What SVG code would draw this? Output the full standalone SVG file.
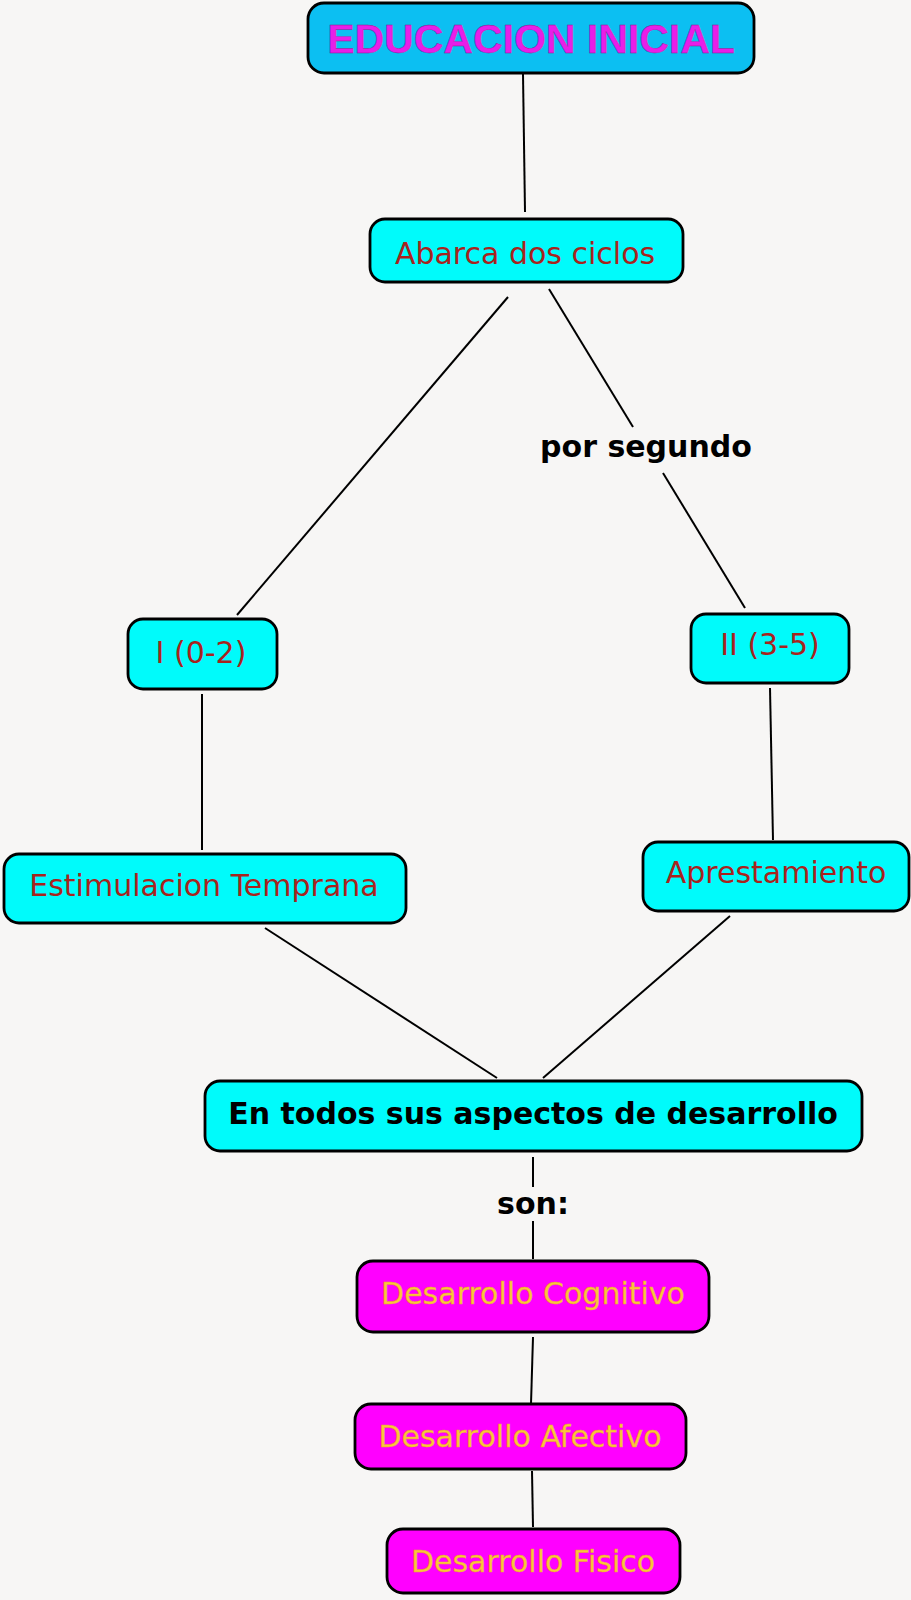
<svg xmlns="http://www.w3.org/2000/svg" width="911" height="1600" viewBox="0 0 911 1600">
  <style>
    .box { stroke: #000; stroke-width: 2.8; }
    .cyan { fill: #00fbfb; }
    .mag { fill: #ff00ff; }
    .top { fill: #0cbff2; }
    .t { font-family: "DejaVu Sans", Verdana, sans-serif; font-size: 30px; text-anchor: middle; }
    .red { fill: #a8231d; }
    .yel { fill: #fbc53a; stroke: #e8a030; stroke-width: 0.4; }
    .bold { font-weight: bold; fill: #000; }
    .edge { stroke: #000; stroke-width: 2; fill: none; }
  </style>
  <rect width="911" height="1600" fill="#f7f6f5"/>

  <g id="connectors">
    <line class="edge" x1="523" y1="74" x2="525" y2="212"/>
    <line class="edge" x1="508" y1="297" x2="237" y2="615"/>
    <line class="edge" x1="549" y1="289" x2="633" y2="427"/>
    <line class="edge" x1="663" y1="473" x2="745" y2="608"/>
    <line class="edge" x1="202" y1="694" x2="202" y2="850"/>
    <line class="edge" x1="770" y1="688" x2="773" y2="840"/>
    <line class="edge" x1="265" y1="928" x2="497" y2="1078"/>
    <line class="edge" x1="730" y1="916" x2="543" y2="1078"/>
    <line class="edge" x1="533" y1="1157" x2="533" y2="1187"/>
    <line class="edge" x1="533" y1="1221" x2="533" y2="1259"/>
    <line class="edge" x1="533" y1="1337" x2="531" y2="1404"/>
    <line class="edge" x1="532" y1="1471" x2="533" y2="1527"/>
  </g>

  <g id="n-educacion">
    <rect class="box top" x="308" y="3" width="446" height="70" rx="16"/>
    <text x="531" y="53" font-family="'Liberation Sans', Arial, sans-serif" font-size="41" font-weight="bold" text-anchor="middle" fill="#e81ee8" stroke="#8a1a8a" stroke-width="0.35">EDUCACION INICIAL</text>
  </g>

  <g id="n-abarca">
    <rect class="box cyan" x="370" y="219" width="313" height="63" rx="15"/>
    <text class="t red" x="525" y="264">Abarca dos ciclos</text>
  </g>

  <g id="l-porsegundo">
    <text class="t bold" x="646" y="457" font-size="29">por segundo</text>
  </g>

  <g id="n-i">
    <rect class="box cyan" x="128" y="619" width="149" height="70" rx="15"/>
    <text class="t red" x="201" y="663">I (0-2)</text>
  </g>

  <g id="n-ii">
    <rect class="box cyan" x="691" y="614" width="158" height="69" rx="15"/>
    <text class="t red" x="770" y="655">II (3-5)</text>
  </g>

  <g id="n-estimulacion">
    <rect class="box cyan" x="4" y="854" width="402" height="69" rx="15"/>
    <text class="t red" x="204" y="896">Estimulacion Temprana</text>
  </g>

  <g id="n-aprestamiento">
    <rect class="box cyan" x="643" y="842" width="266" height="69" rx="15"/>
    <text class="t red" x="776" y="883">Aprestamiento</text>
  </g>

  <g id="n-entodos">
    <rect class="box cyan" x="205" y="1081" width="657" height="70" rx="15"/>
    <text class="t bold" x="533" y="1124">En todos sus aspectos de desarrollo</text>
  </g>

  <g id="l-son">
    <text class="t bold" x="533" y="1214">son:</text>
  </g>

  <g id="n-cognitivo">
    <rect class="box mag" x="357" y="1261" width="352" height="71" rx="16"/>
    <text class="t yel" x="533" y="1304">Desarrollo Cognitivo</text>
  </g>

  <g id="n-afectivo">
    <rect class="box mag" x="355" y="1404" width="331" height="65" rx="16"/>
    <text class="t yel" x="520" y="1447">Desarrollo Afectivo</text>
  </g>

  <g id="n-fisico">
    <rect class="box mag" x="387" y="1529" width="293" height="64" rx="16"/>
    <text class="t yel" x="533" y="1572">Desarrollo Fisico</text>
  </g>
</svg>
